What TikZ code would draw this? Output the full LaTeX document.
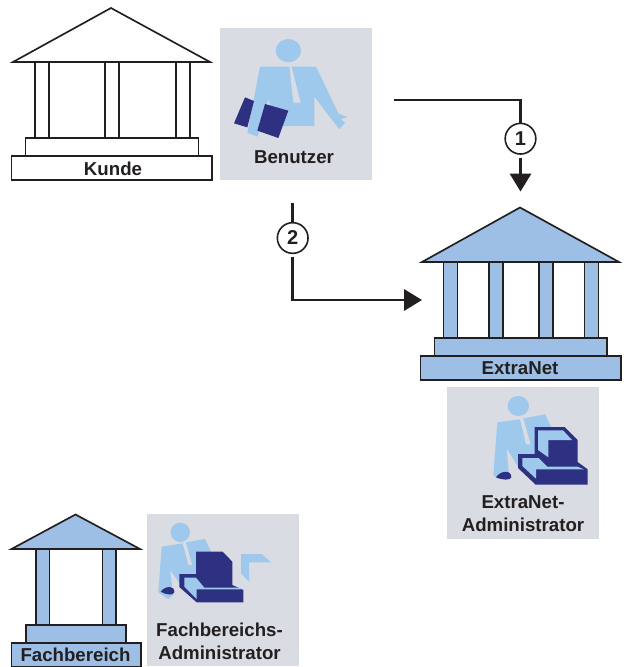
\documentclass[tikz,border=0pt]{standalone}
\usepackage{fontspec}
\setmainfont{Liberation Sans}
\usetikzlibrary{arrows.meta}

\definecolor{inkblack}{HTML}{231F20}
\definecolor{panelgray}{HTML}{D9DCE2}
\definecolor{roofblue}{HTML}{9DBFE6}
\definecolor{figblue}{HTML}{9FC9EC}
\definecolor{darkblue}{HTML}{2E3182}

\tikzset{
    build/.style={draw=inkblack, line width=1.25pt, line join=miter},
    panel/.style={fill=panelgray},
    figure/.style={fill=figblue},
    dark/.style={fill=darkblue},
    lab/.style={font=\fontsize{14}{17.25}\selectfont\bfseries, text=inkblack, align=center, inner sep=0pt},
    numcircle/.style={circle, draw=inkblack, fill=white, line width=1.2pt, minimum size=23pt, inner sep=0pt, font=\fontsize{15}{15}\selectfont\bfseries, text=inkblack},
    wire/.style={draw=inkblack, line width=1.9pt},
    tip/.style={-{Triangle[length=13.5pt,width=16pt]}},
}

\begin{document}
\begin{tikzpicture}[x=0.75pt, y=-0.75pt]
    \useasboundingbox (0,0) rectangle (624,667);

    % Kunde
    \draw[build, fill=white] (13,62) -- (111,8) -- (210,62) -- cycle;
    \foreach \x in {35,105,176}
        \draw[build, fill=white] (\x,62) rectangle (\x+14,138);
    \draw[build, fill=white] (25.5,138) rectangle (198.5,156);
    \draw[build, fill=white] (11.5,156) rectangle (212,180);
    \node[lab] (kunde) at (113,169) {Kunde};

    % ExtraNet
    \draw[build, fill=roofblue] (422,262) -- (520,207.5) -- (619,262) -- cycle;
    \foreach \x in {443.5,489,539,584.5}
        \draw[build, fill=roofblue] (\x,262) rectangle (\x+14,338);
    \draw[build, fill=roofblue] (434.5,338) rectangle (607,356);
    \draw[build, fill=roofblue] (420.5,356) rectangle (621,380);
    \node[lab] (extranet) at (520,368.5) {ExtraNet};

    % Fachbereich
    \draw[build, fill=roofblue] (11.5,549) -- (75.5,514.5) -- (140,549) -- cycle;
    \foreach \x in {36,102.5}
        \draw[build, fill=roofblue] (\x,549) rectangle (\x+13.5,625);
    \draw[build, fill=roofblue] (26,625) rectangle (126,643);
    \draw[build, fill=roofblue] (11.5,643) rectangle (141,666.5);
    \node[lab] (fachbereich) at (75.5,655) {Fachbereich};

    % Benutzer
    \fill[panel] (220,28) rectangle (372,180);
    \begin{scope}[shift={(210,20)}, x=0.25pt, y=-0.25pt]
        \fill[figure] (235,92) ellipse (38 and 35);
        \fill[figure] (150,140) -- (238,140) -- (250,248) -- (272,248) -- (245,140) -- (318,140) -- (385,280) -- (412,292) -- (392,297) -- (405,308) -- (388,328) -- (313,230) -- (313,318) -- (200,318) -- (175,238) -- (143,350) -- (112,338) -- cycle;
        \fill[dark] (105,232) -- (132,243) -- (112,322) -- (72,310) -- cycle;
        \fill[dark] (165,252) -- (235,272) -- (205,354) -- (142,332) -- cycle;
    \end{scope}
    \node[lab] (benutzer) at (294,157) {Benutzer};

    % ExtraNet-Administrator
    \fill[panel] (447,387) rectangle (599,539);
    \begin{scope}[shift={(440,380)}, x=0.25pt, y=-0.25pt]
        \fill[figure] (235,78) ellipse (32 and 30);
        \fill[figure] (172,127) -- (240,118) -- (258,193) -- (272,193) -- (250,115) -- (315,103) -- (345,165) -- (345,280) -- (240,270) -- (200,205) -- (207,285) -- (200,298) -- (172,295) -- (160,285) -- cycle;
        \fill[dark] (168,292) .. controls (180,272) and (215,268) .. (214,292) .. controls (212,302) and (185,300) .. (168,292) -- cycle;
        \fill[dark] (284,141) -- (374,141) -- (413,180) -- (413,246) -- (443,268) -- (443,314) -- (287,314) -- (234,264) -- (234,222) -- (284,222) -- cycle;
        \fill[figure] (294,151) -- (369,151) -- (396,180) -- (325,180) -- (325,232) -- (294,210) -- cycle;
        \fill[figure] (247,234) -- (296,234) -- (322,260) -- (412,260) -- (432,268) -- (288,268) -- (288,296) -- (247,258) -- cycle;
    \end{scope}
    \node[lab] (extraadmin) at (523,513.5) {ExtraNet-\\Administrator};

    % Fachbereichs-Administrator
    \fill[panel] (147,514) rectangle (299,666);
    \begin{scope}[shift={(140,505)}, x=0.25pt, y=-0.25pt]
        \fill[figure] (121,82) ellipse (29 and 29);
        \fill[figure] (65,125) -- (128,115) -- (145,180) -- (157,180) -- (138,112) -- (195,102) -- (225,165) -- (225,260) -- (130,250) -- (90,195) -- (100,270) -- (85,282) -- (55,262) -- cycle;
        \fill[dark] (62,260) .. controls (75,242) and (105,240) .. (103,262) .. controls (100,272) and (78,270) .. (62,260) -- cycle;
        \fill[dark] (118,207) -- (170,207) -- (198,240) -- (277,240) -- (310,255) -- (310,292) -- (170,292) -- (118,246) -- cycle;
        \fill[figure] (133,218) -- (168,218) -- (193,248) -- (300,248) -- (304,253) -- (170,253) -- (170,282) -- (133,245) -- cycle;
        \fill[dark] (168,140) -- (248,140) -- (277,170) -- (277,245) -- (198,245) -- (168,212) -- cycle;
        \fill[figure] (303,147) -- (365,147) -- (393,172) -- (327,172) -- (327,230) -- (303,205) -- cycle;
    \end{scope}
    \node[lab] (fachadmin) at (219.5,641.5) {Fachbereichs-\\Administrator};

    % connectors
    \node[numcircle] (one) at (520.5,138.7) {1};
    \node[numcircle] (two) at (292.7,238) {2};
    \coordinate (startone) at (393.5,100);
    \coordinate (endone) at (520.5,191.5);
    \coordinate (starttwo) at (292.7,203);
    \coordinate (endtwo) at (422,300);
    \draw[wire] (startone) -| (one);
    \draw[wire, tip, shorten <=2pt] (one) -- (endone);
    \draw[wire] (starttwo) -- (two);
    \draw[wire, tip, shorten <=2pt] (two) |- (endtwo);
\end{tikzpicture}
\end{document}
